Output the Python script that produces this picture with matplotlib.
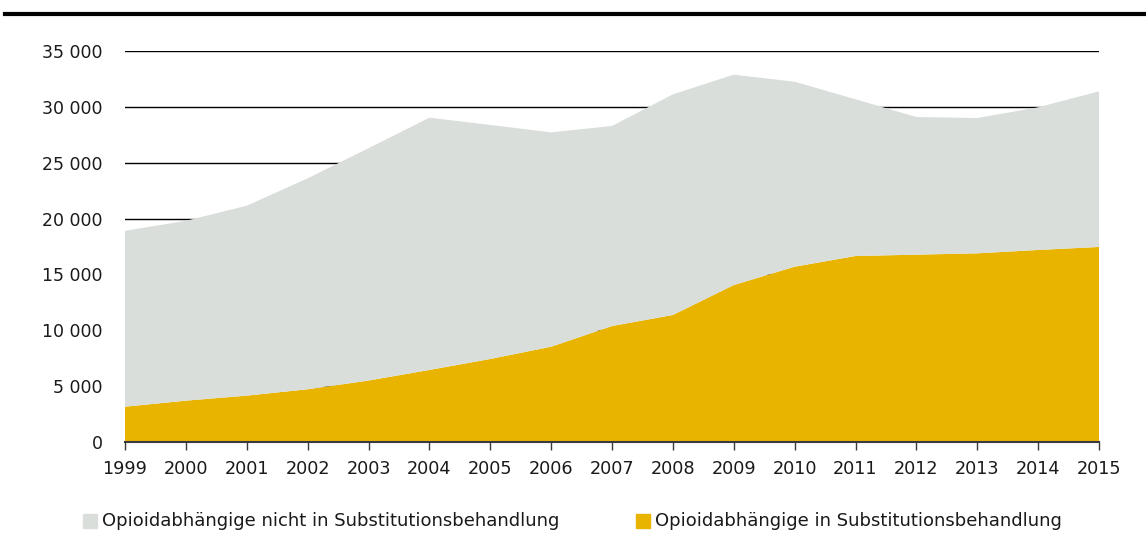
import matplotlib
matplotlib.use("Agg")
import matplotlib.pyplot as plt
from matplotlib.lines import Line2D
from matplotlib.patches import Rectangle

years = list(range(1999, 2016))
total = [18900, 19800, 21150, 23600, 26300, 29030, 28380, 27720, 28290, 31120,
         32880, 32250, 30680, 29090, 29000, 29960, 31390]
substitution = [3160, 3700, 4150, 4720, 5500, 6450, 7430, 8530, 10380, 11370,
                14050, 15690, 16650, 16770, 16890, 17190, 17460]
not_subst = [t - s for t, s in zip(total, substitution)]
yticks = [0, 5000, 10000, 15000, 20000, 25000, 30000, 35000]
label_not = "Opioidabhängige nicht in Substitutionsbehandlung"
label_sub = "Opioidabhängige in Substitutionsbehandlung"
c_grey = "#D9DEDB"
c_gold = "#E8B400"

plt.rcParams['font.family'] = ['DejaVu Sans']
fig = plt.figure(figsize=(11.46, 5.51), dpi=100)
ax = fig.add_axes([125/1146, 1-442/551, (1099-125)/1146, (442-51)/551])

ax.stackplot(years, substitution, not_subst, colors=[c_gold, c_grey], zorder=2, linewidth=0)
for v in yticks[1:]:
    ax.axhline(v, color="black", lw=1.0, zorder=1)

ax.set_xlim(1999, 2015)
ax.set_ylim(0, 35000)
ax.set_xticks(years)
ax.set_xticklabels([str(y) for y in years], fontsize=12.7, color="#1a1a1a")
ax.set_yticks(yticks)
ax.set_yticklabels([f"{v:,}".replace(",", " ") for v in yticks], fontsize=12.5, color="#1a1a1a")
for s in ["top", "right", "left"]:
    ax.spines[s].set_visible(False)
ax.spines["bottom"].set_color("#3a3a3a")
ax.spines["bottom"].set_linewidth(1.5)
ax.spines["bottom"].set_zorder(3)
ax.tick_params(axis="x", length=6, width=1, color="#3a3a3a", pad=7)
ax.tick_params(axis="y", length=0, pad=16)

fig.add_artist(Line2D([5/1146, 1.0], [1-14/551, 1-14/551], color="black", lw=3, transform=fig.transFigure))

# legend
fig.add_artist(Rectangle((83/1146, 1-528/551), 14/1146, 14/551, color=c_grey, transform=fig.transFigure))
fig.text(102/1146, 1-521/551, label_not, fontsize=13, va="center", ha="left", color="#1a1a1a")
fig.add_artist(Rectangle((636/1146, 1-528/551), 14/1146, 14/551, color=c_gold, transform=fig.transFigure))
fig.text(655/1146, 1-521/551, label_sub, fontsize=13, va="center", ha="left", color="#1a1a1a")

fig.savefig("out.png", dpi=100)
